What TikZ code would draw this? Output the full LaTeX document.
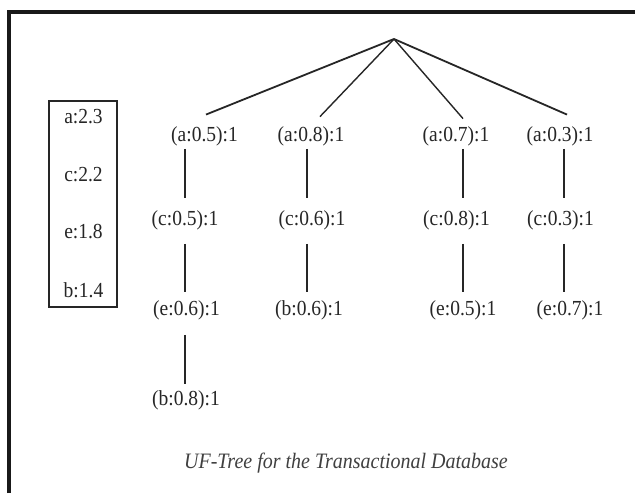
\documentclass[tikz,border=0pt]{standalone}
\usepackage{graphicx}
\usepackage{fontspec}
\setmainfont{Liberation Serif}
% labels are set slightly taller than the font's natural shape
\newcommand{\lbl}[1]{\scalebox{1}[1.1]{#1}}
\begin{document}
\begin{tikzpicture}[x=1pt,y=-1pt,
  every node/.style={inner sep=0pt,text=black!85,font=\fontsize{19.5}{22}\selectfont},
  link/.style={draw=black!85,line width=1.6pt},
  branch/.style={draw=black!85,line width=1.8pt}]
\useasboundingbox (0,0) rectangle (635,493);
\fill[white] (0,0) rectangle (635,493);
% outer frame (open to the right and bottom)
\draw[line width=3.2pt,black!90] (9,493) -- (9,12) -- (635,12);

% header table
\draw[line width=1.4pt,black!85] (49,101) rectangle (117,307);
\node (la) at (83.5,117) {\lbl{a:2.3}};
\node (lc) at (83.5,175) {\lbl{c:2.2}};
\node (le) at (83.5,232) {\lbl{e:1.8}};
\node (lb) at (83.5,290) {\lbl{b:1.4}};

% root
\coordinate (root) at (394,39);

% column x positions of the vertical links
\coordinate (k1) at (185,0);
\coordinate (k2) at (307,0);
\coordinate (k3) at (463,0);
\coordinate (k4) at (564,0);

% branch 1
\node (a1) at (204.5,136) {\lbl{(a:0.5):1}};
\node (c1) at (185,220) {\lbl{(c:0.5):1}};
\node (e1) at (186.5,310) {\lbl{(e:0.6):1}};
\node (b1) at (186,400) {\lbl{(b:0.8):1}};
% branch 2
\node (a2) at (311,136) {\lbl{(a:0.8):1}};
\node (c2) at (312,220) {\lbl{(c:0.6):1}};
\node (b2) at (309,310) {\lbl{(b:0.6):1}};
% branch 3
\node (a3) at (456,136) {\lbl{(a:0.7):1}};
\node (c3) at (456.5,220) {\lbl{(c:0.8):1}};
\node (e3) at (463,310) {\lbl{(e:0.5):1}};
% branch 4
\node (a4) at (560,136) {\lbl{(a:0.3):1}};
\node (c4) at (560.5,220) {\lbl{(c:0.3):1}};
\node (e4) at (570,310) {\lbl{(e:0.7):1}};

% edges from the root
\draw[branch] (root) -- ([xshift=1.5pt,yshift=11.5pt]a1.north);
\draw[branch,line width=1.4pt] (root) -- ([xshift=9pt,yshift=9.5pt]a2.north);
\draw[branch,line width=1.4pt] (root) -- ([xshift=7pt,yshift=7.5pt]a3.north);
\draw[branch] (root) -- ([xshift=7pt,yshift=11.5pt]a4.north);

% vertical links
\foreach \p/\q/\k in {a1/c1/k1,a2/c2/k2,a3/c3/k3,a4/c4/k4}
  \draw[link,shorten <=3pt,shorten >=12pt] (\p.south -| \k) -- (\q.north -| \k);
\foreach \p/\q/\k in {c1/e1/k1,c2/b2/k2,c3/e3/k3,c4/e4/k4}
  \draw[link,shorten <=14pt,shorten >=8pt] (\p.south -| \k) -- (\q.north -| \k);
\draw[link,shorten <=15pt,shorten >=6pt] (e1.south -| k1) -- (b1.north -| k1);

% caption
\node[text=black!75,font=\fontsize{20}{24}\selectfont\itshape] (cap) at (346,463)
  {\lbl{UF-Tree for the Transactional Database}};
\end{tikzpicture}
\end{document}
